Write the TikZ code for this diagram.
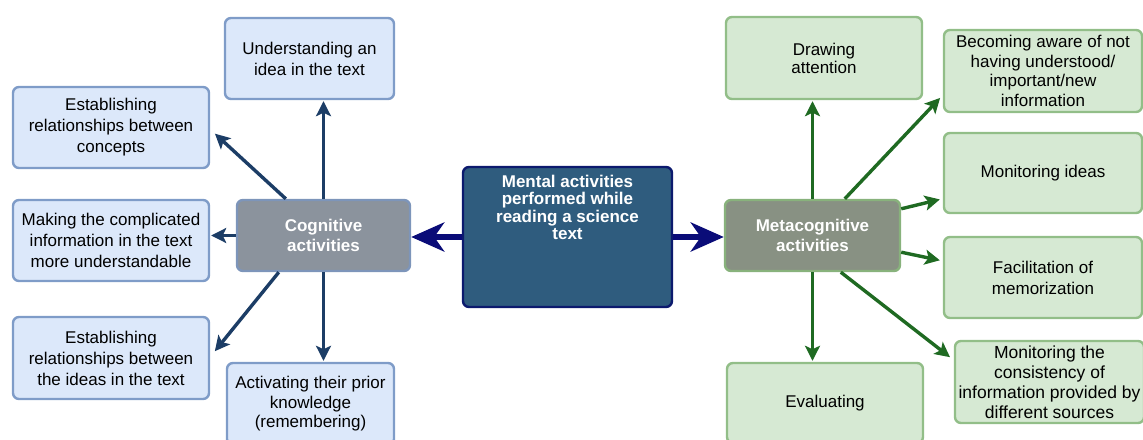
\documentclass[tikz,border=0pt]{standalone}
\usepackage{fontspec}
\setmainfont{Liberation Sans}
\usepackage{tikz}
\usetikzlibrary{arrows.meta, calc, positioning}
\definecolor{bluefill}{HTML}{DCE8FA}
\definecolor{blueline}{HTML}{7F9CC8}
\definecolor{greenfill}{HTML}{D6E9D3}
\definecolor{greenline}{HTML}{92BE88}
\definecolor{cogfill}{HTML}{8B939D}
\definecolor{cogline}{HTML}{7D95BA}
\definecolor{metafill}{HTML}{889183}
\definecolor{metaline}{HTML}{88B27C}
\definecolor{mainfill}{HTML}{2F5C7E}
\definecolor{mainline}{HTML}{0C1A6E}
\definecolor{bigarrow}{HTML}{0A0C78}
\definecolor{cogarrow}{HTML}{1C3D66}
\definecolor{metaarrow}{HTML}{1F6A22}
\tikzset{
  box/.style={rounded corners=6pt, line width=2.4pt, align=center, inner sep=0pt,
    font=\fontsize{17}{21}\selectfont},
  bluebox/.style={box, draw=blueline, fill=bluefill},
  greenbox/.style={box, draw=greenline, fill=greenfill},
  cogbox/.style={box, draw=cogline, fill=cogfill, text=white,
    font=\fontsize{17}{19.5}\selectfont\bfseries},
  metabox/.style={box, draw=metaline, fill=metafill, text=white,
    font=\fontsize{17}{19.5}\selectfont\bfseries},
  mainbox/.style={box, draw=mainline, fill=mainfill},
  maintext/.style={align=center, text=white, inner sep=0pt,
    font=\fontsize{17}{17.5}\selectfont\bfseries},
  cogedge/.style={draw=cogarrow, line width=3.4pt, -{Stealth[length=15pt, width=15pt, inset=3.5pt]}, shorten >=1pt},
  metaedge/.style={draw=metaarrow, line width=3.4pt, -{Stealth[length=15pt, width=15pt, inset=3.5pt]}, shorten >=1pt},
  bigedge/.style={draw=bigarrow, line width=6.5pt, -{Stealth[length=33pt, width=29pt, inset=10pt]}}
}
\begin{document}
\begin{tikzpicture}[x=1pt, y=-1pt]
\useasboundingbox (0,0) rectangle (1143,439);
% centre
\node[mainbox, minimum width=209, minimum height=140] (central) at (567.5,237) {};
\node[maintext] (centraltxt) at (567.5,207.5) {Mental activities\\performed while\\reading a science\\text};
% cognitive side
\node[cogbox, minimum width=173, minimum height=71] (cog) at (323.5,235.5) {Cognitive\\activities};
\node[bluebox, minimum width=169, minimum height=81] (idea) at (309.5,58.5) {Understanding an\\idea in the text};
\node[bluebox, minimum width=196, minimum height=81] (concepts) at (111,127.5) {Establishing\\relationships between\\concepts};
\node[bluebox, minimum width=196, minimum height=81] (complicated) at (111,240.5) {Making the complicated\\information in the text\\more understandable};
\node[bluebox, minimum width=196, minimum height=82] (ideas) at (111,358) {Establishing\\relationships between\\the ideas in the text};
\node[bluebox, minimum width=167, minimum height=82, font=\fontsize{17}{19.5}\selectfont] (prior) at (310.5,404) {Activating their prior\\knowledge\\(remembering)};
% metacognitive side
\node[metabox, minimum width=175, minimum height=71] (meta) at (812.5,235.5) {Metacognitive\\activities};
\node[greenbox, minimum width=196, minimum height=82, font=\fontsize{17}{18}\selectfont] (attention) at (824,58) {Drawing\\attention};
\node[greenbox, minimum width=198, minimum height=82, font=\fontsize{17}{19.5}\selectfont] (aware) at (1043,71) {Becoming aware of not\\having understood/\\important/new\\information};
\node[greenbox, minimum width=198, minimum height=80] (monitor) at (1043,173) {Monitoring ideas};
\node[greenbox, minimum width=198, minimum height=81] (memo) at (1043,277.5) {Facilitation of\\memorization};
\node[greenbox, minimum width=189, minimum height=82, font=\fontsize{17.5}{20}\selectfont] (consist) at (1049.5,382) {Monitoring the\\consistency of\\information provided by\\different sources};
\node[greenbox, minimum width=196, minimum height=80] (evaluating) at (825,403) {Evaluating};
% big arrows
\draw[bigedge] (central.west) -- (central.west -| cog.east);
\draw[bigedge] (central.east) -- (central.east -| meta.west);
% cognitive arrows
\draw[cogedge] (cog.north) -- (cog.north |- idea.south);
\draw[cogedge] ($(cog.north west)+(50,0)$) -- ($(concepts.east)+(4,5.5)$);
\draw[cogedge] (cog.west) -- (cog.west -| complicated.east);
\draw[cogedge] ($(cog.south west)+(43,0)$) -- ($(ideas.east)+(4,-6)$);
\draw[cogedge] (cog.south) -- (cog.south |- prior.north);
% metacognitive arrows
\draw[metaedge] (meta.north) -- (meta.north |- attention.south);
\draw[metaedge] ($(meta.north west)+(121,0)$) -- ($(aware.south west)+(-2,-16)$);
\draw[metaedge] ($(meta.north east)+(0,10)$) -- ($(monitor.south west)+(-2,-15)$);
\draw[metaedge] ($(meta.south east)+(0,-20)$) -- ($(memo.west)+(-2,-17)$);
\draw[metaedge] ($(meta.south west)+(117,0)$) -- ($(consist.north west)+(-3,18)$);
\draw[metaedge] (meta.south) -- (meta.south |- evaluating.north);
\end{tikzpicture}
\end{document}
